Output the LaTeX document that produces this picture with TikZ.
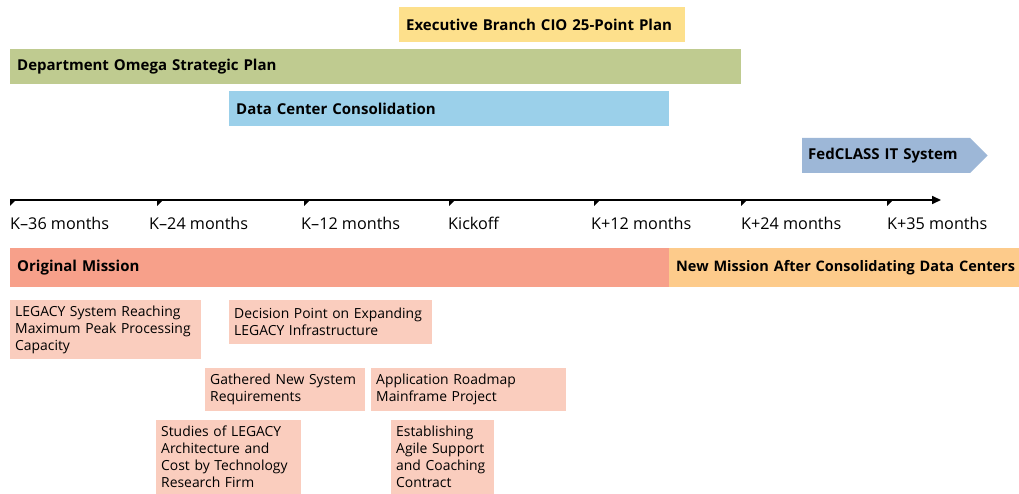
\documentclass[tikz,border=0pt]{standalone}
\usepackage{fontspec}
\setmainfont{Open Sans}
\usetikzlibrary{arrows.meta,shapes.symbols}
\definecolor{execyellow}{HTML}{FDE08C}
\definecolor{deptgreen}{HTML}{BFCB90}
\definecolor{dccblue}{HTML}{9BD0EA}
\definecolor{fedblue}{HTML}{9DB7D7}
\definecolor{origsalmon}{HTML}{F7A08A}
\definecolor{neworange}{HTML}{FDCB8B}
\definecolor{eventpink}{HTML}{FACDBE}
\tikzset{
	bar/.style={fill=#1, anchor=north west, minimum height=35pt, inner xsep=7pt, inner ysep=0pt,
			align=left, font=\fontsize{15}{16}\selectfont\bfseries},
	event/.style={fill=eventpink, anchor=north west, inner xsep=5pt, inner ysep=2pt,
			align=left, font=\fontsize{13.9}{17}\selectfont},
	ticklabel/.style={anchor=base west, inner sep=0pt, font=\fontsize{16.2}{17}\selectfont}
}
\begin{document}
\begin{tikzpicture}[x=1pt, y=1pt]
			\useasboundingbox (0,0) rectangle (1019,-494);

			% Plans above the time line
			\node[bar=execyellow, text width=272pt] (exec) at (399,-7) {Executive Branch CIO 25-Point Plan};
			\node[bar=deptgreen, text width=717pt] (dept) at (10,-49) {Department Omega Strategic Plan};
			\node[bar=dccblue, text width=426pt] (dcc) at (229,-91) {Data Center Consolidation};
			\node[signal, signal to=east, signal pointer angle=90, fill=fedblue, anchor=west,
				minimum width=181pt, minimum height=35pt, inner xsep=6pt, text width=156pt, align=left,
				font=\fontsize{15}{16}\selectfont\bfseries] (fed) at (802,-155.5) {FedCLASS IT System};

			% Time line
			\coordinate (axstart) at (10,-200);
			\coordinate (axend) at (941,-200);
			\draw[line width=1.6pt, -{Triangle[length=9pt, width=8pt]}] (axstart) -- (axend);
			\foreach \t/\l/\txt [count=\i] in {10/10/K--36 months, 157/149/K--24 months, 304/301/K--12 months,
					449/448/Kickoff, 594/591/K+12 months, 741/741/K+24 months, 887/887/K+35 months} {
					\fill (\t,-200) -- ++(6,0) -- ++(-6,-6) -- cycle;
					\node[ticklabel] (tick\i) at (\l,-230) {\txt};
				}

			% Missions
			\node[bar=origsalmon, minimum height=39pt, text width=645pt] (orig) at (10,-248) {Original Mission};
			\node[bar=neworange, minimum height=39pt, text width=344pt,
				font=\fontsize{14.5}{16}\selectfont\bfseries] (newmission) at (669,-248)
			{\mbox{New Mission After Consolidating Data Centers}};

			% Events
			\node[event, text width=181pt, minimum height=59pt] (legacy) at (10,-300)
			{LEGACY System Reaching\\Maximum Peak Processing\\Capacity};
			\node[event, text width=193pt, minimum height=44pt] (decision) at (229,-300)
			{Decision Point on Expanding\\LEGACY Infrastructure};
			\node[event, text width=150pt, minimum height=43pt] (gathered) at (205,-368)
			{Gathered New System\\Requirements};
			\node[event, text width=185pt, minimum height=43pt] (roadmap) at (371,-368)
			{Application Roadmap\\Mainframe Project};
			\node[event, text width=135pt, minimum height=74pt] (studies) at (156,-420)
			{Studies of LEGACY\\Architecture and\\Cost by Technology\\Research Firm};
			\node[event, text width=93pt, minimum height=74pt] (agile) at (391,-420)
			{Establishing\\Agile Support\\and Coaching\\Contract};

		\end{tikzpicture}
\end{document}
